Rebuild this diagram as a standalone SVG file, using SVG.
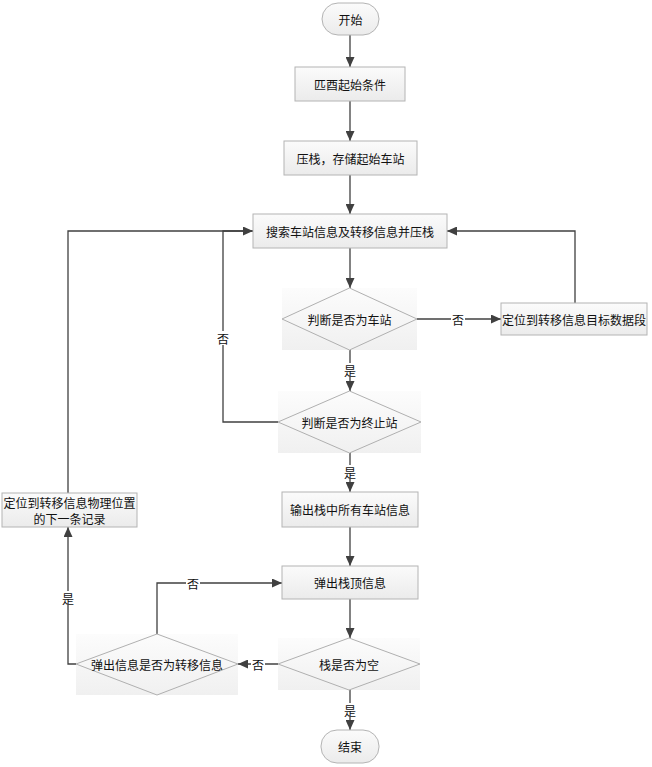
<svg xmlns="http://www.w3.org/2000/svg" width="652" height="767" viewBox="0 0 652 767">
<defs>
<linearGradient id="g" x1="0" y1="0" x2="0" y2="1">
<stop offset="0" stop-color="#fbfbfb"/>
<stop offset="1" stop-color="#ebebeb"/>
</linearGradient>
<linearGradient id="g2" x1="0" y1="0" x2="0" y2="1">
<stop offset="0" stop-color="#fcfcfc"/>
<stop offset="1" stop-color="#f0f0f0"/>
</linearGradient>
<marker id="arr" markerWidth="10" markerHeight="9" refX="10" refY="4.5" orient="auto" markerUnits="userSpaceOnUse">
<path d="M0,0 L10,4.5 L0,9 z" fill="#404040"/>
</marker>
<style>
.box{fill:url(#g);stroke:#b4b4b4;stroke-width:1}
.bg{fill:url(#g2);stroke:none}
.dia{fill:none;stroke:#b0b0b0;stroke-width:1}
.t{font-family:"Noto Sans CJK SC","Noto Sans",sans-serif;font-size:12px;fill:#111;text-anchor:middle;dominant-baseline:central}
.c{fill:none;stroke:#404040;stroke-width:1.3}
.a{marker-end:url(#arr)}
.lb{fill:#fff}
</style>
</defs>
<rect width="652" height="767" fill="#fff"/>
<g id="connectors">
<path class="c a" d="M350,35 V67"/>
<path class="c a" d="M350,101 V141"/>
<path class="c a" d="M350,175 V214"/>
<path class="c a" d="M350,248 V288"/>
<path class="c a" d="M417,319 H501"/>
<path class="c a" d="M575,303 V231 H447"/>
<path class="c a" d="M350,350 V391"/>
<path class="c a" d="M278,422 H223 V231 H253"/>
<path class="c a" d="M350,453 V492"/>
<path class="c a" d="M350,527 V566"/>
<path class="c a" d="M350,599 V638"/>
<path class="c a" d="M350,690 V730"/>
<path class="c a" d="M278,664 H238"/>
<path class="c a" d="M157,634 V583 H282"/>
<path class="c a" d="M76,664 H68 V527"/>
<path class="c" d="M68,493 V231 H253"/>
<rect class="lb" x="451" y="312" width="14" height="14"/>
<text class="t" x="458" y="319">否</text>
<rect class="lb" x="343" y="363" width="14" height="14"/>
<text class="t" x="350" y="370">是</text>
<rect class="lb" x="216" y="331" width="14" height="14"/>
<text class="t" x="223" y="338">否</text>
<rect class="lb" x="343" y="465" width="14" height="14"/>
<text class="t" x="350" y="472">是</text>
<rect class="lb" x="343" y="703" width="14" height="14"/>
<text class="t" x="350" y="710">是</text>
<rect class="lb" x="251" y="657" width="14" height="14"/>
<text class="t" x="258" y="664">否</text>
<rect class="lb" x="186" y="576" width="14" height="14"/>
<text class="t" x="193" y="583">否</text>
<rect class="lb" x="61" y="591" width="14" height="14"/>
<text class="t" x="68" y="598">是</text>
</g>
<g id="start">
<rect class="box" x="322" y="3" width="57" height="32" rx="16"/>
<text class="t" x="350.5" y="19">开始</text>
</g>
<g id="n1">
<rect class="box" x="295" y="67" width="110" height="34"/>
<text class="t" x="350" y="84">匹酉起始条件</text>
</g>
<g id="n2">
<rect class="box" x="284" y="141" width="133" height="34"/>
<text class="t" x="350.5" y="158">压栈，存储起始车站</text>
</g>
<g id="n3">
<rect class="box" x="253" y="214" width="194" height="34"/>
<text class="t" x="350" y="231">搜索车站信息及转移信息并压栈</text>
</g>
<g id="d1">
<rect class="bg" x="282" y="288" width="135" height="62"/>
<polygon class="dia" points="349.5,288 417,319 349.5,350 282,319"/>
<text class="t" x="349.5" y="319">判断是否为车站</text>
</g>
<g id="nR">
<rect class="box" x="501" y="303" width="146" height="32"/>
<text class="t" x="574" y="319">定位到转移信息目标数据段</text>
</g>
<g id="d2">
<rect class="bg" x="278" y="391" width="143" height="62"/>
<polygon class="dia" points="349.5,391 421,422 349.5,453 278,422"/>
<text class="t" x="349.5" y="422">判断是否为终止站</text>
</g>
<g id="n4">
<rect class="box" x="282" y="492" width="136" height="35"/>
<text class="t" x="350" y="509.5">输出栈中所有车站信息</text>
</g>
<g id="n5">
<rect class="box" x="282" y="566" width="136" height="33"/>
<text class="t" x="350" y="582.5">弹出栈顶信息</text>
</g>
<g id="d3">
<rect class="bg" x="278" y="638" width="142" height="52"/>
<polygon class="dia" points="349,638 420,664 349,690 278,664"/>
<text class="t" x="349" y="664">栈是否为空</text>
</g>
<g id="d4">
<rect class="bg" x="76" y="634" width="162" height="61"/>
<polygon class="dia" points="157,634 238,664 157,695 76,664"/>
<text class="t" x="157" y="664">弹出信息是否为转移信息</text>
</g>
<g id="nL">
<rect class="box" x="2" y="493" width="135" height="34"/>
<text class="t" x="69.5" y="502">定位到转移信息物理位置</text>
<text class="t" x="69.5" y="518">的下一条记录</text>
</g>
<g id="end">
<rect class="box" x="321" y="730" width="58" height="33" rx="16"/>
<text class="t" x="350" y="746.5">结束</text>
</g>
</svg>
